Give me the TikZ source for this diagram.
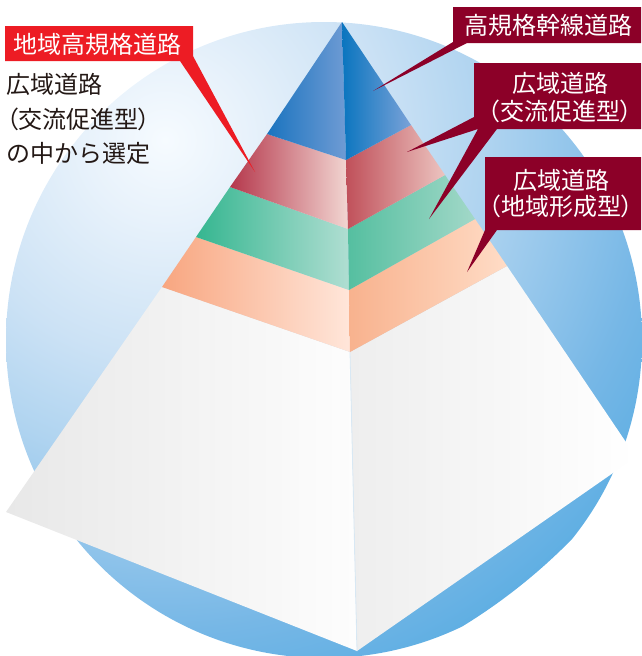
\documentclass[tikz,border=0pt]{standalone}
\usepackage{fontspec}
\setmainfont{Noto Sans CJK JP}
\definecolor{bg0}{HTML}{F6FBFF}
\definecolor{bg1}{HTML}{E8F2FB}
\definecolor{bg2}{HTML}{CCE2F5}
\definecolor{bg3}{HTML}{B0D4F0}
\definecolor{bg4}{HTML}{76B7E6}
\definecolor{bg5}{HTML}{60AFE3}
\definecolor{maroon}{HTML}{8C0028}
\definecolor{lblred}{HTML}{ED1C24}
\definecolor{txt}{HTML}{231815}
\definecolor{ridge}{HTML}{D8E8F4}
\pgfdeclareradialshading{bgshade}{\pgfpoint{0bp}{0bp}}{color(0bp)=(bg0); color(3.5bp)=(bg1); color(9.5bp)=(bg2); color(14bp)=(bg3); color(21.5bp)=(bg4); color(25bp)=(bg5); color(50bp)=(bg5)}
\newcommand{\lpar}{{\addfontfeature{RawFeature=+palt}（}}
\newcommand{\rpar}{{\addfontfeature{RawFeature=+palt}）}}
\begin{document}
\begin{tikzpicture}[x=1pt,y=-1pt,
  jp/.style={font=\fontsize{24}{28}\selectfont, inner sep=0pt},
  lbl/.style={jp, text=white},
  side/.style={jp, text=txt, anchor=west},
  callout/.style={fill=maroon},
  redcallout/.style={fill=lblred}]
\useasboundingbox (0,0) rectangle (641,656);
% background disc
\begin{scope}
  \clip (324,340) circle[radius=318pt];
  \shade[shading=bgshade] (165,140) circle[radius=570pt];
\end{scope}
% pyramid points
\coordinate (A) at (342,22);
\coordinate (L1) at (267,134);
\coordinate (L2) at (230,187);
\coordinate (L3) at (196,237);
\coordinate (L4) at (162,287);
\coordinate (L5) at (6,512);
\coordinate (C1) at (346,160);
\coordinate (C2) at (348,229);
\coordinate (C3) at (349,290);
\coordinate (C4) at (350,352);
\coordinate (C5) at (357,651);
\coordinate (R1) at (411,125);
\coordinate (R2) at (445,175);
\coordinate (R3) at (475,219);
\coordinate (R4) at (507,266);
\coordinate (R5) at (636,457);
% white base
\shade[left color={rgb,255:red,232;green,232;blue,232}, right color={rgb,255:red,253;green,253;blue,253}] (L4) -- (C4) -- (C5) -- (L5) -- cycle;
\shade[left color={rgb,255:red,238;green,238;blue,238}, right color=white] (C4) -- (R4) -- (R5) -- (C5) -- cycle;
\draw[ridge, line width=0.8pt] (C4) -- (C5);
% orange
\shade[left color={rgb,255:red,248;green,166;blue,128}, right color={rgb,255:red,255;green,230;blue,218}] (L3) -- (C3) -- (C4) -- (L4) -- cycle;
\shade[left color={rgb,255:red,248;green,178;blue,142}, right color={rgb,255:red,255;green,220;blue,198}] (C3) -- (R3) -- (R4) -- (C4) -- cycle;
% green
\shade[left color={rgb,255:red,53;green,182;blue,144}, right color={rgb,255:red,176;green,222;blue,210}] (L2) -- (C2) -- (C3) -- (L3) -- cycle;
\shade[left color={rgb,255:red,85;green,191;blue,160}, right color={rgb,255:red,162;green,216;blue,200}] (C2) -- (R2) -- (R3) -- (C3) -- cycle;
% red
\shade[left color={rgb,255:red,181;green,56;blue,76}, right color={rgb,255:red,242;green,214;blue,210}] (L1) -- (C1) -- (C2) -- (L2) -- cycle;
\shade[left color={rgb,255:red,192;green,80;blue,90}, right color={rgb,255:red,236;green,196;blue,192}] (C1) -- (R1) -- (R2) -- (C2) -- cycle;
% blue
\shade[left color={rgb,255:red,26;green,116;blue,191}, right color={rgb,255:red,111;green,155;blue,212}] (A) -- (C1) -- (L1) -- cycle;
\shade[left color={rgb,255:red,10;green,117;blue,191}, right color={rgb,255:red,122;green,162;blue,216}] (A) -- (R1) -- (C1) -- cycle;
% callout tips
\coordinate (tipA) at (373,91);
\coordinate (tipB1) at (407,152);
\coordinate (tipB2) at (429,219);
\coordinate (tipC) at (467,272);
\coordinate (tipR) at (255,172);
% callouts
\fill[callout] (453,7) -- (641,7) -- (641,43) -- (467,43) -- (tipA) -- (453,42) -- cycle;
\fill[callout] (474,63) -- (641,63) -- (641,129) -- (497,129) -- (tipB2) -- (478,129) -- (tipB1) -- (474,117) -- cycle;
\fill[callout] (485,157) -- (641,157) -- (641,230) -- (497,230) -- (tipC) -- (485,230) -- cycle;
\fill[redcallout] (5,26) -- (193,26) -- (193,56) -- (tipR) -- (180,61) -- (5,61) -- cycle;
% texts
\node[lbl] (t0) at (97,44) {地域高規格道路};
\node[side] (s1) at (6,84) {広域道路};
\node[side] (s2) at (6,119) {\lpar 交流促進型\rpar};
\node[side] (s3) at (6,153) {の中から選定};
\node[lbl] (t1) at (548,25) {高規格幹線道路};
\node[lbl] (t2a) at (560,83) {広域道路};
\node[lbl] (t2b) at (560,111) {\lpar 交流促進型\rpar};
\node[lbl] (t3a) at (561,180) {広域道路};
\node[lbl] (t3b) at (561,206) {\lpar 地域形成型\rpar};
\end{tikzpicture}
\end{document}
